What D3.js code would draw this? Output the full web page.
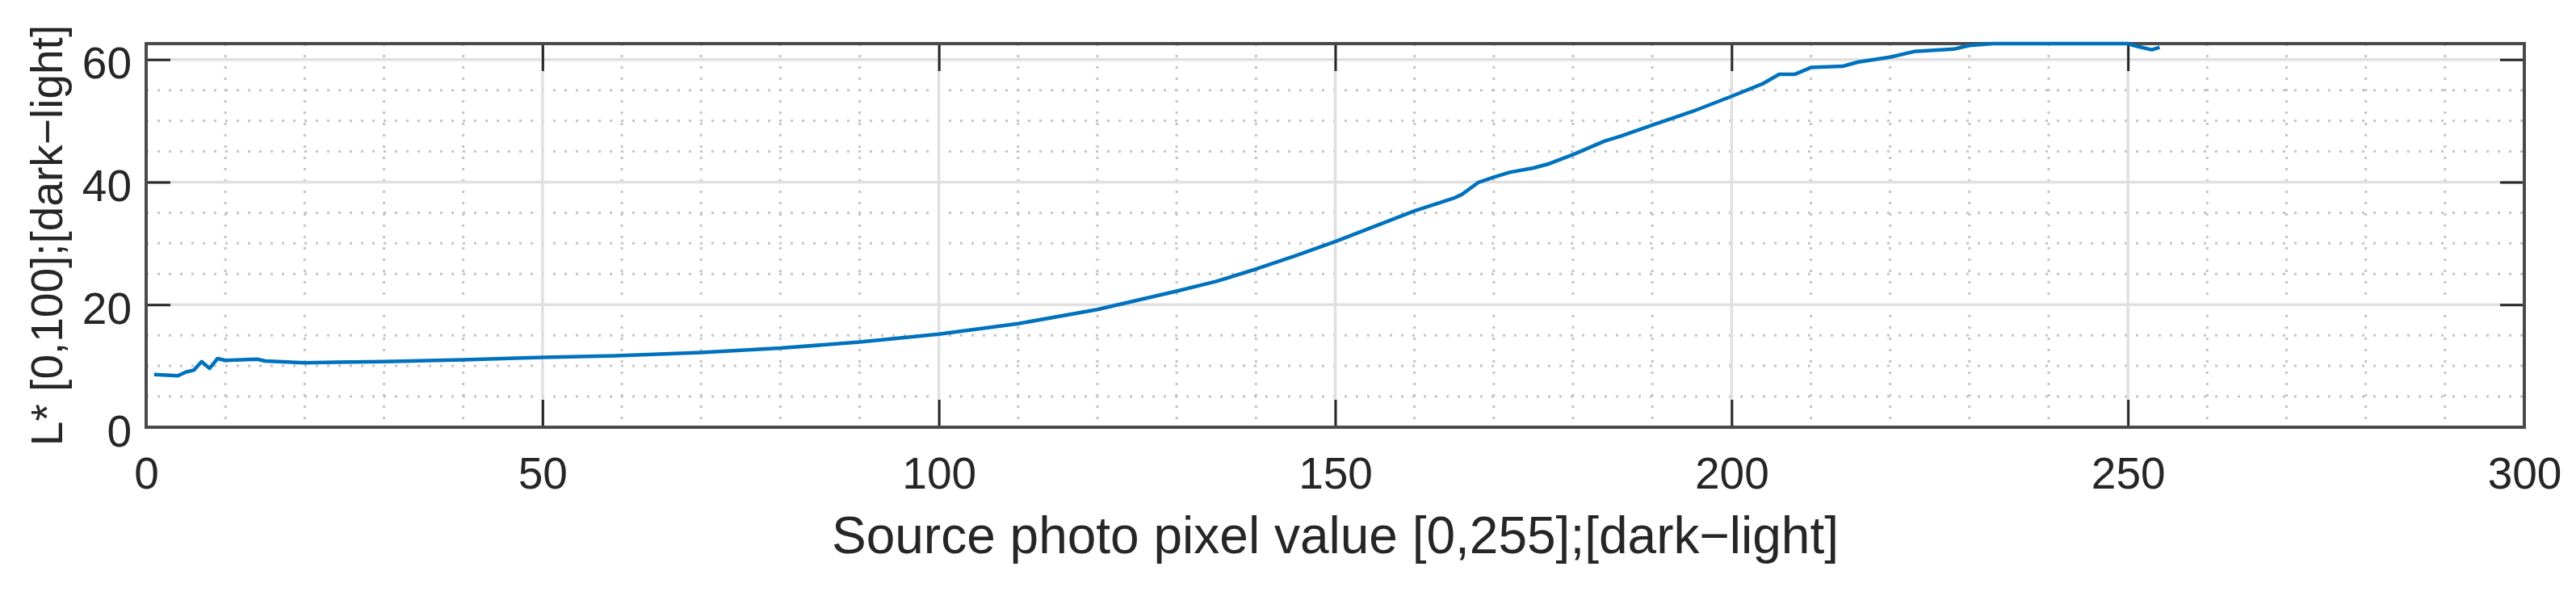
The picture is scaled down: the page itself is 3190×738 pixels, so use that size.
<!DOCTYPE html>
<html>
<head>
<meta charset="utf-8">
<script src="https://cdn.jsdelivr.net/npm/d3@7"></script>
<style>
  html, body { margin: 0; padding: 0; background: #ffffff; }
  svg { display: block; }
  text { font-family: "Liberation Sans", Arial, Helvetica, sans-serif; fill: #262626; }
</style>
</head>
<body>
<svg id="chart" width="3190" height="738"></svg>
<script>
// ---- data ----
const pixelValues = [1, 4, 5, 6, 7, 8, 9, 10, 14, 15, 20, 24, 30, 40, 50, 57, 60, 70, 80, 90, 100, 110, 120, 130, 135, 140, 145, 150, 155, 160, 165, 166, 168, 170, 172, 175, 177, 180, 184, 186, 190, 195, 200, 204, 206, 208, 210, 214, 216, 220, 223, 228, 230, 233, 240, 250, 251, 253, 254];
const lightness   = [8.6, 8.4, 9.0, 9.3, 10.7, 9.6, 11.2, 10.9, 11.1, 10.8, 10.5, 10.6, 10.7, 11.0, 11.4, 11.6, 11.7, 12.2, 12.9, 13.9, 15.2, 16.9, 19.2, 22.2, 23.8, 25.8, 28.0, 30.3, 32.8, 35.3, 37.4, 38.0, 39.9, 40.8, 41.6, 42.3, 43.0, 44.5, 46.7, 47.5, 49.3, 51.5, 54.0, 56.1, 57.6, 57.6, 58.7, 58.9, 59.6, 60.4, 61.3, 61.7, 62.3, 62.6, 62.6, 62.6, 62.2, 61.6, 62.0];
const xTicks = [0, 50, 100, 150, 200, 250, 300];
const yTicks = [0, 20, 40, 60];
const xMinor = d3.range(0, 301, 10);
const yMinor = d3.range(0, 62.6, 5);
const xLabel = "Source photo pixel value [0,255];[dark\u2212light]";
const yLabel = "L* [0,100];[dark\u2212light]";

// ---- layout ----
const W = 3190, H = 738;
const margin = { left: 181, right: 64, top: 54, bottom: 209 };
const pw = W - margin.left - margin.right;
const ph = H - margin.top - margin.bottom;

const svg = d3.select("#chart");
const g = svg.append("g").attr("transform", `translate(${margin.left},${margin.top})`);

const x = d3.scaleLinear().domain([0, 300]).range([0, pw]);
const y = d3.scaleLinear().domain([0, 62.6]).range([ph, 0]);

// minor grid (dotted)
g.append("g").selectAll("line").data(xMinor.filter(v => v % 50 !== 0)).join("line")
  .attr("x1", d => x(d)).attr("x2", d => x(d)).attr("y1", 0).attr("y2", ph)
  .attr("stroke", "#c4c4c4").attr("stroke-width", 3).attr("stroke-dasharray", "3,11");
g.append("g").selectAll("line").data(yMinor.filter(v => v % 20 !== 0)).join("line")
  .attr("y1", d => y(d)).attr("y2", d => y(d)).attr("x1", 0).attr("x2", pw)
  .attr("stroke", "#c4c4c4").attr("stroke-width", 3).attr("stroke-dasharray", "3,11");

// major grid (solid light)
g.append("g").selectAll("line").data(xTicks.filter(v => v > 0 && v < 300)).join("line")
  .attr("x1", d => x(d)).attr("x2", d => x(d)).attr("y1", 0).attr("y2", ph)
  .attr("stroke", "#e0e0e0").attr("stroke-width", 3.5);
g.append("g").selectAll("line").data(yTicks.filter(v => v > 0)).join("line")
  .attr("y1", d => y(d)).attr("y2", d => y(d)).attr("x1", 0).attr("x2", pw)
  .attr("stroke", "#e0e0e0").attr("stroke-width", 3.5);

// axes with inward ticks
const fs = 55;
const xAxis = g.append("g").attr("transform", `translate(0,${ph})`)
  .call(d3.axisBottom(x).tickValues(xTicks).tickSize(-34).tickPadding(0).tickFormat(d3.format("d")));
xAxis.selectAll("text").attr("font-size", fs).attr("dy", null).attr("y", 76);
const xAxisTop = g.append("g")
  .call(d3.axisTop(x).tickValues(xTicks).tickSize(-34).tickFormat(""));
const yAxis = g.append("g")
  .call(d3.axisLeft(y).tickValues(yTicks).tickSize(-30).tickPadding(0).tickFormat(d3.format("d")));
yAxis.selectAll("text").attr("font-size", fs).attr("x", -18).attr("dy", null).attr("y", 23);
const yAxisR = g.append("g").attr("transform", `translate(${pw},0)`)
  .call(d3.axisRight(y).tickValues(yTicks).tickSize(-30).tickFormat(""));

[xAxis, xAxisTop, yAxis, yAxisR].forEach(a => {
  a.select(".domain").remove();
  a.selectAll(".tick line").attr("stroke", "#262626").attr("stroke-width", 3);
  a.selectAll("text").attr("fill", "#262626").style("font-family", '"Liberation Sans", Arial, sans-serif');
});

// box
g.append("rect").attr("x", 0).attr("y", 0).attr("width", pw).attr("height", ph)
  .attr("fill", "none").attr("stroke", "#4a4a4a").attr("stroke-width", 4);

// data line
const line = d3.line().x((d, i) => x(pixelValues[i])).y(d => y(d));
g.append("path").datum(lightness)
  .attr("d", line)
  .attr("fill", "none").attr("stroke", "#0072BD").attr("stroke-width", 4.5)
  .attr("stroke-linejoin", "round");

// labels
svg.append("text")
  .attr("x", margin.left + pw / 2).attr("y", 685)
  .attr("text-anchor", "middle").attr("font-size", 64)
  .text(xLabel);
svg.append("text")
  .attr("transform", `translate(77,${margin.top + ph / 2}) rotate(-90)`)
  .attr("text-anchor", "middle").attr("font-size", 55)
  .text(yLabel);
</script>
</body>
</html>
